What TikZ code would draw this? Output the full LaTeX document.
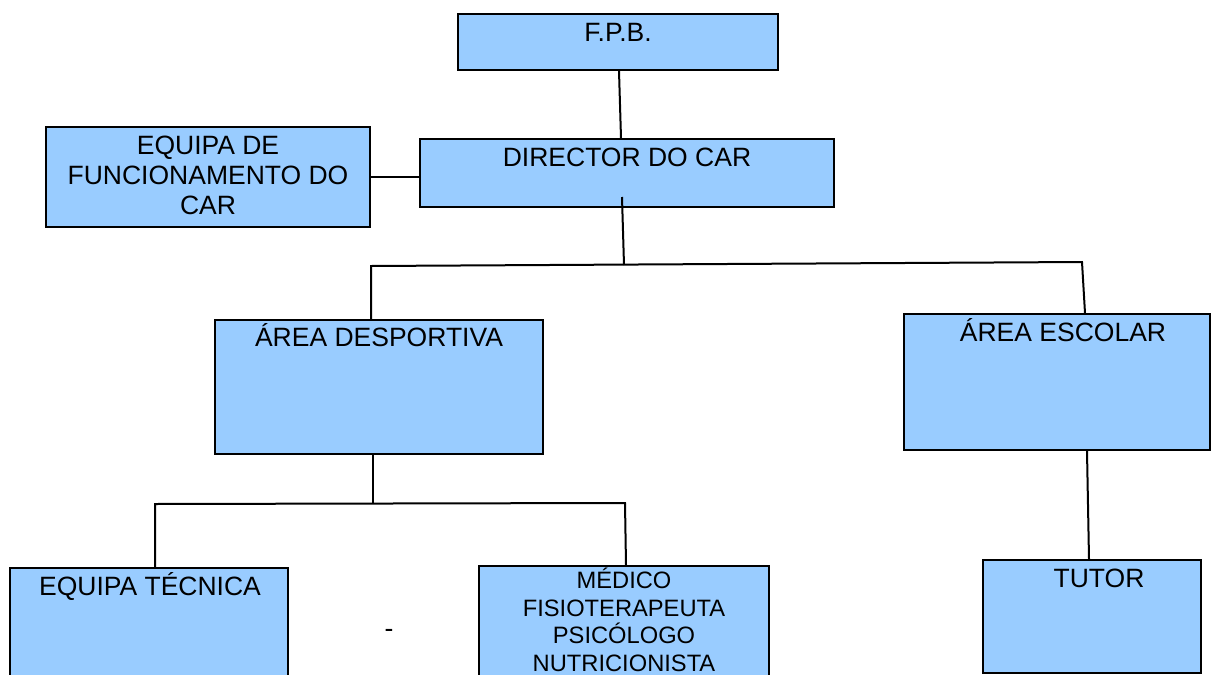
\documentclass[tikz,border=0pt]{standalone}
\usepackage{fontspec}
\setmainfont{Liberation Sans}
\begin{document}
\begin{tikzpicture}[x=1pt,y=-1pt,
  box/.style={draw=black, fill=boxblue, line width=2pt, rectangle, inner sep=0pt},
  lbl/.style={font=\fontsize{26.5}{30}\selectfont, inner sep=0pt, anchor=base, align=center},
  slbl/.style={font=\fontsize{23.7}{27.5}\selectfont, inner sep=0pt, anchor=base, align=center},
  conn/.style={line width=2pt, black}]
\definecolor{boxblue}{HTML}{99CCFF}
\useasboundingbox (0,0) rectangle (1211,675);
% boxes
\node[box, minimum width=320pt, minimum height=56pt] (fpb) at (618,42) {};
\node[box, minimum width=414pt, minimum height=68pt] (dir) at (627,173) {};
\node[box, minimum width=324pt, minimum height=100pt] (efc) at (208,177) {};
\node[box, minimum width=328pt, minimum height=134pt] (ades) at (379,387) {};
\node[box, minimum width=306pt, minimum height=136pt] (aesc) at (1057,382) {};
\node[box, minimum width=218pt, minimum height=113pt] (tutor) at (1092,616.5) {};
\node[box, minimum width=278pt, minimum height=120pt] (etec) at (149,628) {};
\node[box, minimum width=290pt, minimum height=120pt] (med) at (624,626) {};
% texts
\node[lbl] (fpbT) at (618,41) {F.P.B.};
\node[lbl] (dirT) at (627,166) {DIRECTOR DO CAR};
\node[lbl] (efcT) at (208,214) {EQUIPA DE\\FUNCIONAMENTO DO\\CAR};
\node[lbl] (adesT) at (379,346) {ÁREA DESPORTIVA};
\node[lbl] (aescT) at (1063,341) {ÁREA ESCOLAR};
\node[lbl] (tutorT) at (1099,587) {TUTOR};
\node[lbl] (etecT) at (150,595) {EQUIPA TÉCNICA};
\node[slbl] (medT) at (624,671) {MÉDICO\\FISIOTERAPEUTA\\PSICÓLOGO\\NUTRICIONISTA};
\node[lbl] (dash) at (389,637) {-};
% junction coordinates
\coordinate (dirIn) at (622,197);
\coordinate (j1) at (624,265);
\coordinate (j1L) at (371,266);
\coordinate (j1R) at (1082,262);
\coordinate (j2) at (373,503.5);
\coordinate (j2L) at (155,504);
\coordinate (j2R) at (625,503);
% connectors
\draw[conn] (fpb.south -| 619,0) -- (dir.north -| 621,0);
\draw[conn] (efc.east) -- (dir.west |- efc.east);
\draw[conn] (dirIn) -- (j1);
\draw[conn] (j1L |- ades.north) -- (j1L) -- (j1R) -- (1085,0 |- aesc.north);
\draw[conn] (ades.south -| j2) -- (j2);
\draw[conn] (j2L |- etec.north) -- (j2L) -- (j2R) -- (626,0 |- med.north);
\draw[conn] (aesc.south -| 1087,0) -- (tutor.north -| 1089,0);
\end{tikzpicture}
\end{document}
